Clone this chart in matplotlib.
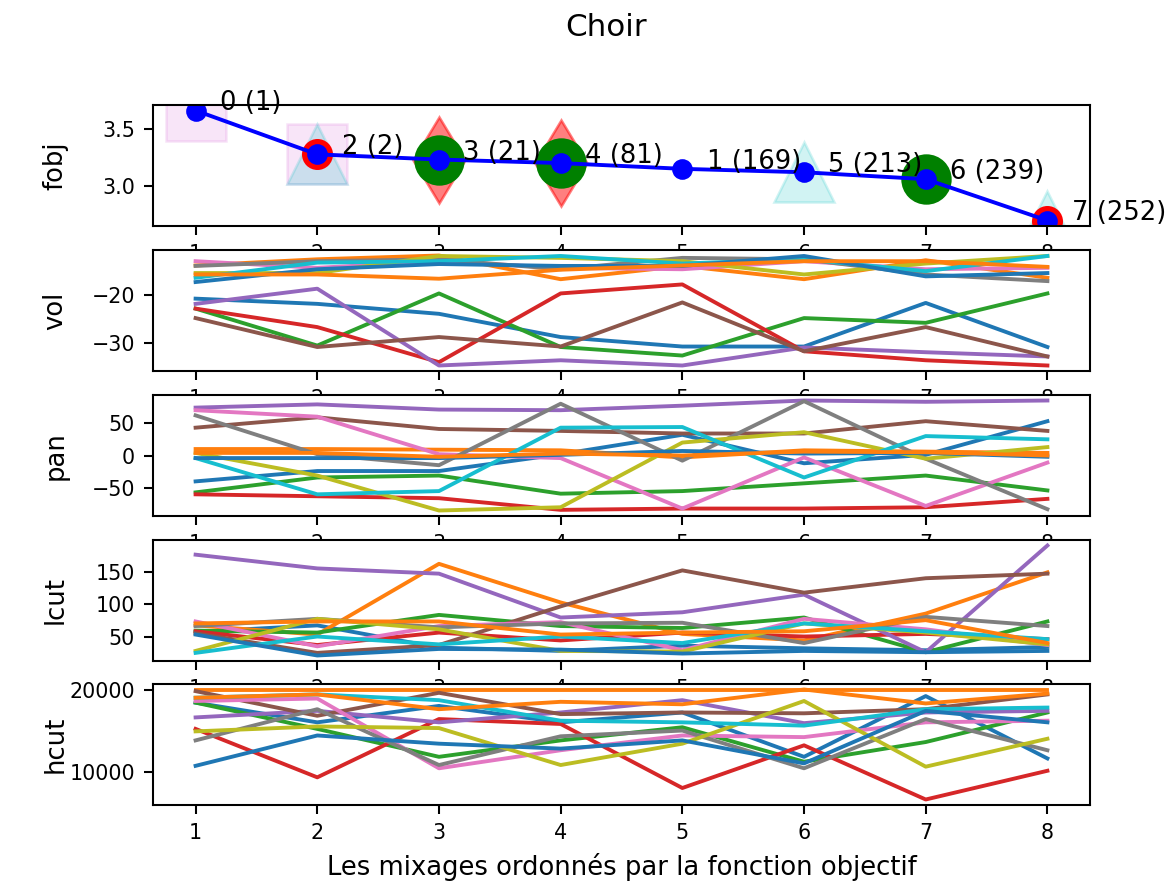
import matplotlib
matplotlib.use("Agg")
import matplotlib.pyplot as plt

# ---- data -------------------------------------------------------------
mix_rank = [1, 2, 3, 4, 5, 6, 7, 8]
fobj = [3.658, 3.276, 3.231, 3.200, 3.150, 3.120, 3.060, 2.700]
mix_ids = [0, 2, 3, 4, 1, 5, 6, 7]
mix_counts = [1, 2, 21, 81, 169, 213, 239, 252]

# highlighted mixes (1-based rank positions)
square_at = [1, 2]
triangle_at = [2, 6, 8]
diamond_at = [3, 4]
green_at = [3, 4, 7]
red_at = [2, 8]

# one row per track, one value per ranked mix
vol = [
    [-20.7, -21.8, -23.9, -28.8, -30.8, -30.8, -21.6, -30.9],
    [-13.7, -12.4, -11.6, -16.6, -13.8, -16.6, -12.6, -16.3],
    [-22.8, -30.6, -19.6, -30.9, -32.7, -24.8, -25.8, -19.6],
    [-22.8, -26.7, -34.1, -19.6, -17.7, -31.8, -33.7, -34.8],
    [-21.8, -18.6, -34.8, -33.7, -34.8, -31.0, -32.0, -32.9],
    [-24.8, -30.9, -28.8, -30.8, -21.5, -31.8, -26.7, -32.9],
    [-12.8, -14.2, -12.8, -14.2, -14.5, -12.8, -14.5, -14.2],
    [-13.8, -12.8, -12.4, -14.5, -12.1, -12.4, -15.6, -17.0],
    [-15.3, -15.3, -11.7, -12.1, -12.8, -15.6, -13.3, -11.7],
    [-16.3, -13.1, -12.8, -11.7, -13.3, -12.4, -14.9, -11.7],
    [-17.2, -14.5, -13.4, -13.8, -13.8, -11.7, -16.0, -15.3],
    [-15.6, -15.6, -16.5, -14.6, -13.7, -12.8, -12.8, -14.0],
]
pan = [
    [-40, -24, -24, 2, 32, -12, 1, 53],
    [10, 10, 9, 8, -3, 8, 6, 4],
    [-57, -34, -31, -59, -55, -43, -31, -54],
    [-60, -63, -66, -84, -82, -82, -80, -67],
    [74, 79, 71, 70, 77, 85, 83, 85],
    [43, 59, 41, 38, 34, 34, 53, 38],
    [70, 60, 2, -4, -82, -3, -78, -11],
    [62, 2, -15, 80, -8, 84, -5, -83],
    [4, -31, -85, -80, 20, 36, -5, 13],
    [-4, -60, -55, 43, 44, -34, 30, 25],
    [-4, -4, -4, 1, 7, 3, 4, -2],
    [4, 4, -2, 3, 0, 6, 5, 0],
]
lcut = [
    [58, 68, 34, 29, 37, 33, 30, 35],
    [68, 54, 162, 103, 55, 45, 86, 149],
    [60, 57, 84, 67, 64, 80, 27, 74],
    [59, 38, 57, 45, 57, 51, 55, 47],
    [176, 155, 147, 80, 88, 115, 27, 190],
    [56, 26, 38, 97, 152, 118, 140, 147],
    [74, 36, 67, 73, 30, 78, 62, 38],
    [67, 78, 65, 71, 72, 41, 81, 67],
    [29, 78, 62, 29, 28, 71, 57, 39],
    [26, 51, 39, 51, 41, 71, 59, 47],
    [54, 22, 32, 31, 25, 29, 27, 29],
    [71, 74, 74, 54, 57, 59, 76, 41],
]
hcut = [
    [18400, 16000, 18000, 16000, 17200, 11800, 19200, 11600],
    [20000, 20000, 20000, 20000, 20000, 20000, 20000, 20000],
    [18400, 15200, 11800, 13800, 15400, 11200, 13600, 17200],
    [15200, 9300, 16400, 15800, 8000, 13200, 6600, 10100],
    [16600, 17400, 16000, 17200, 18700, 15900, 17200, 17400],
    [19800, 16800, 19600, 17000, 17200, 17100, 17600, 19400],
    [18600, 18900, 10400, 12600, 14400, 14200, 16000, 16200],
    [13800, 17600, 10800, 14300, 15000, 10400, 16400, 12600],
    [14900, 15500, 15300, 10800, 13400, 18600, 10600, 14000],
    [19000, 19400, 18700, 16200, 16000, 15600, 17600, 17800],
    [10700, 14400, 13400, 12800, 13800, 11000, 17400, 16000],
    [19000, 19400, 17600, 18500, 18200, 20000, 18300, 19500],
]
param_names = ["vol", "pan", "lcut", "hcut"]
param_values = [vol, pan, lcut, hcut]

# ---- figure -------------------------------------------------------------
DPI = 186
W, H = 1169, 886
fig = plt.figure(figsize=(W / DPI, H / DPI), dpi=DPI)

left_px, right_px = 153, 1090
tops_px = [105, 250, 395, 540, 684]
h_px = 121

axes = []
for t in tops_px:
    ax = fig.add_axes([left_px / W, (H - t - h_px) / H,
                       (right_px - left_px) / W, h_px / H])
    ax.tick_params(labelsize=8)
    axes.append(ax)


def pick(pos):
    return [fobj[p - 1] for p in pos]


ax0 = axes[0]
ax0.plot(square_at, pick(square_at), "s", color="m", alpha=0.1, ms=23.5, ls="none")
ax0.plot(triangle_at, pick(triangle_at), "^", color="c", alpha=0.18, ms=23.5, ls="none")
ax0.plot(diamond_at, pick(diamond_at), "d", color="r", alpha=0.5, ms=23.5, ls="none")
ax0.plot(green_at, pick(green_at), "o", color="g", ms=18.5, ls="none")
ax0.plot(red_at, pick(red_at), "o", color="r", ms=11, ls="none")
ax0.plot(mix_rank, fobj, "o-", color="b", ms=7)
for x, y, i, c in zip(mix_rank, fobj, mix_ids, mix_counts):
    ax0.text(x + 0.2, y, f"{i} ({c})", fontsize=10)
ax0.set_ylabel("fobj")

for ax, name, rows in zip(axes[1:], param_names, param_values):
    for row in rows:
        ax.plot(mix_rank, row)
    ax.set_ylabel(name)

for ax in axes:
    ax.yaxis.set_label_coords(-0.09, 0.5)

axes[-1].set_xlabel("Les mixages ordonnés par la fonction objectif")
fig.text(606 / W, 1 - 28 / H, "Choir", ha="center", va="center", fontsize=12)

fig.savefig("out.png", dpi=DPI)
